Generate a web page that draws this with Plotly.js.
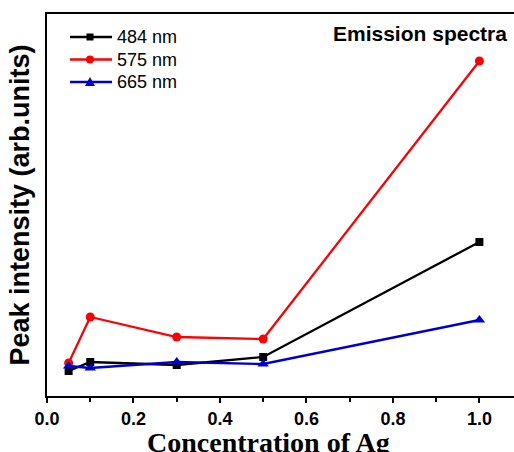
<!DOCTYPE html>
<html><head><meta charset="utf-8">
<script src="https://cdn.plot.ly/plotly-3.0.1.min.js"></script>
<style>body{margin:0;background:#fff}#chart{width:514px;height:452px}</style>
</head><body><div id="chart"></div>
<script>
const concentration = [0.05, 0.1, 0.3, 0.5, 1.0];
const peak484 = [25, 34, 31, 39, 154];
const peak575 = [33, 79, 59, 57, 335];
const peak665 = [30, 28, 34, 32, 76];
const seriesNames = ['484 nm', '575 nm', '665 nm'];
const xTickVals = [0, 0.2, 0.4, 0.6, 0.8, 1.0];
const xTickText = ['0.0', '0.2', '0.4', '0.6', '0.8', '1.0'];

const colors = ['#000000', '#ff0000', '#0000cc'];
const symbols = ['square', 'circle', 'triangle-up'];
const sizes = [8, 9, 10];
const ys = [peak484, peak575, peak665];

const data = ys.map((y, i) => ({
  x: concentration, y: y, name: seriesNames[i], type: 'scatter', mode: 'lines+markers',
  line: {color: colors[i], width: 2.3},
  marker: {color: colors[i], symbol: symbols[i], size: sizes[i]}
}));

// plot area geometry in pixels (for legend placement)
const L = 47, T = 14, W = 467, H = 382;
const px = v => (v - L) / W;
const py = v => (T + H - v) / H;
const legendRows = [37, 59.5, 82];
const shapes = [];
const annotations = [];
legendRows.forEach((r, i) => {
  shapes.push({type: 'line', xref: 'paper', yref: 'paper', x0: px(70), x1: px(112), y0: py(r), y1: py(r),
    line: {color: colors[i], width: 2.3}});
  if (i === 0) {
    shapes.push({type: 'rect', xref: 'paper', yref: 'paper', x0: px(86.5), x1: px(93.5), y0: py(r + 3.5), y1: py(r - 3.5),
      line: {width: 0}, fillcolor: colors[i]});
  } else if (i === 1) {
    shapes.push({type: 'circle', xref: 'paper', yref: 'paper', x0: px(86), x1: px(94), y0: py(r + 4), y1: py(r - 4),
      line: {width: 0}, fillcolor: colors[i]});
  } else {
    const a = [px(85), py(r + 4)], b = [px(95), py(r + 4)], c = [px(90), py(r - 5)];
    shapes.push({type: 'path', xref: 'paper', yref: 'paper',
      path: `M${a[0]},${a[1]} L${b[0]},${b[1]} L${c[0]},${c[1]} Z`,
      line: {width: 0}, fillcolor: colors[i]});
  }
  annotations.push({text: seriesNames[i], xref: 'paper', yref: 'paper', x: px(115), y: py(r),
    xanchor: 'left', yanchor: 'middle', showarrow: false,
    font: {size: 18, family: 'Liberation Sans, Arial', color: '#000'}});
});
annotations.push(
  {text: 'Emission spectra', xref: 'paper', yref: 'paper', x: 0.99, y: 0.985,
   xanchor: 'right', yanchor: 'top', showarrow: false,
   font: {size: 21, family: 'Liberation Sans, Arial', weight: 'bold'}},
  {text: 'Concentration of Ag', xref: 'paper', yref: 'paper', x: (268-47)/467, y: 0,
   yshift: -29, xanchor: 'center', yanchor: 'top', showarrow: false,
   font: {size: 28, family: 'Liberation Serif, Times New Roman', weight: 'bold'}}
);

const layout = {
  width: 514, height: 452,
  margin: {l: L, r: 0, t: T, b: 56},
  paper_bgcolor: '#fff', plot_bgcolor: '#fff',
  font: {family: 'Liberation Sans, Arial', color: '#000'},
  showlegend: false,
  xaxis: {range: [0, 1.08], tickvals: xTickVals, ticktext: xTickText,
    ticks: 'outside', ticklen: 5, tickwidth: 1.5, tickcolor: '#000',
    minor: {dtick: 0.1, tick0: 0, ticks: 'outside', ticklen: 4, tickwidth: 1.5, tickcolor: '#000'},
    showline: true, linewidth: 2, linecolor: '#000', mirror: true,
    showgrid: false, zeroline: false,
    tickfont: {size: 18, family: 'Liberation Sans, Arial', weight: 'bold'}},
  yaxis: {range: [0, 382], showticklabels: false, ticks: '',
    showline: true, linewidth: 2, linecolor: '#000', mirror: false,
    showgrid: false, zeroline: false,
    title: {text: 'Peak intensity (arb.units)', standoff: 8,
      font: {size: 27, family: 'Liberation Sans, Arial', weight: 'bold'}}},
  shapes: shapes,
  annotations: annotations
};
Plotly.newPlot('chart', data, layout, {displayModeBar: false});
</script></body></html>
